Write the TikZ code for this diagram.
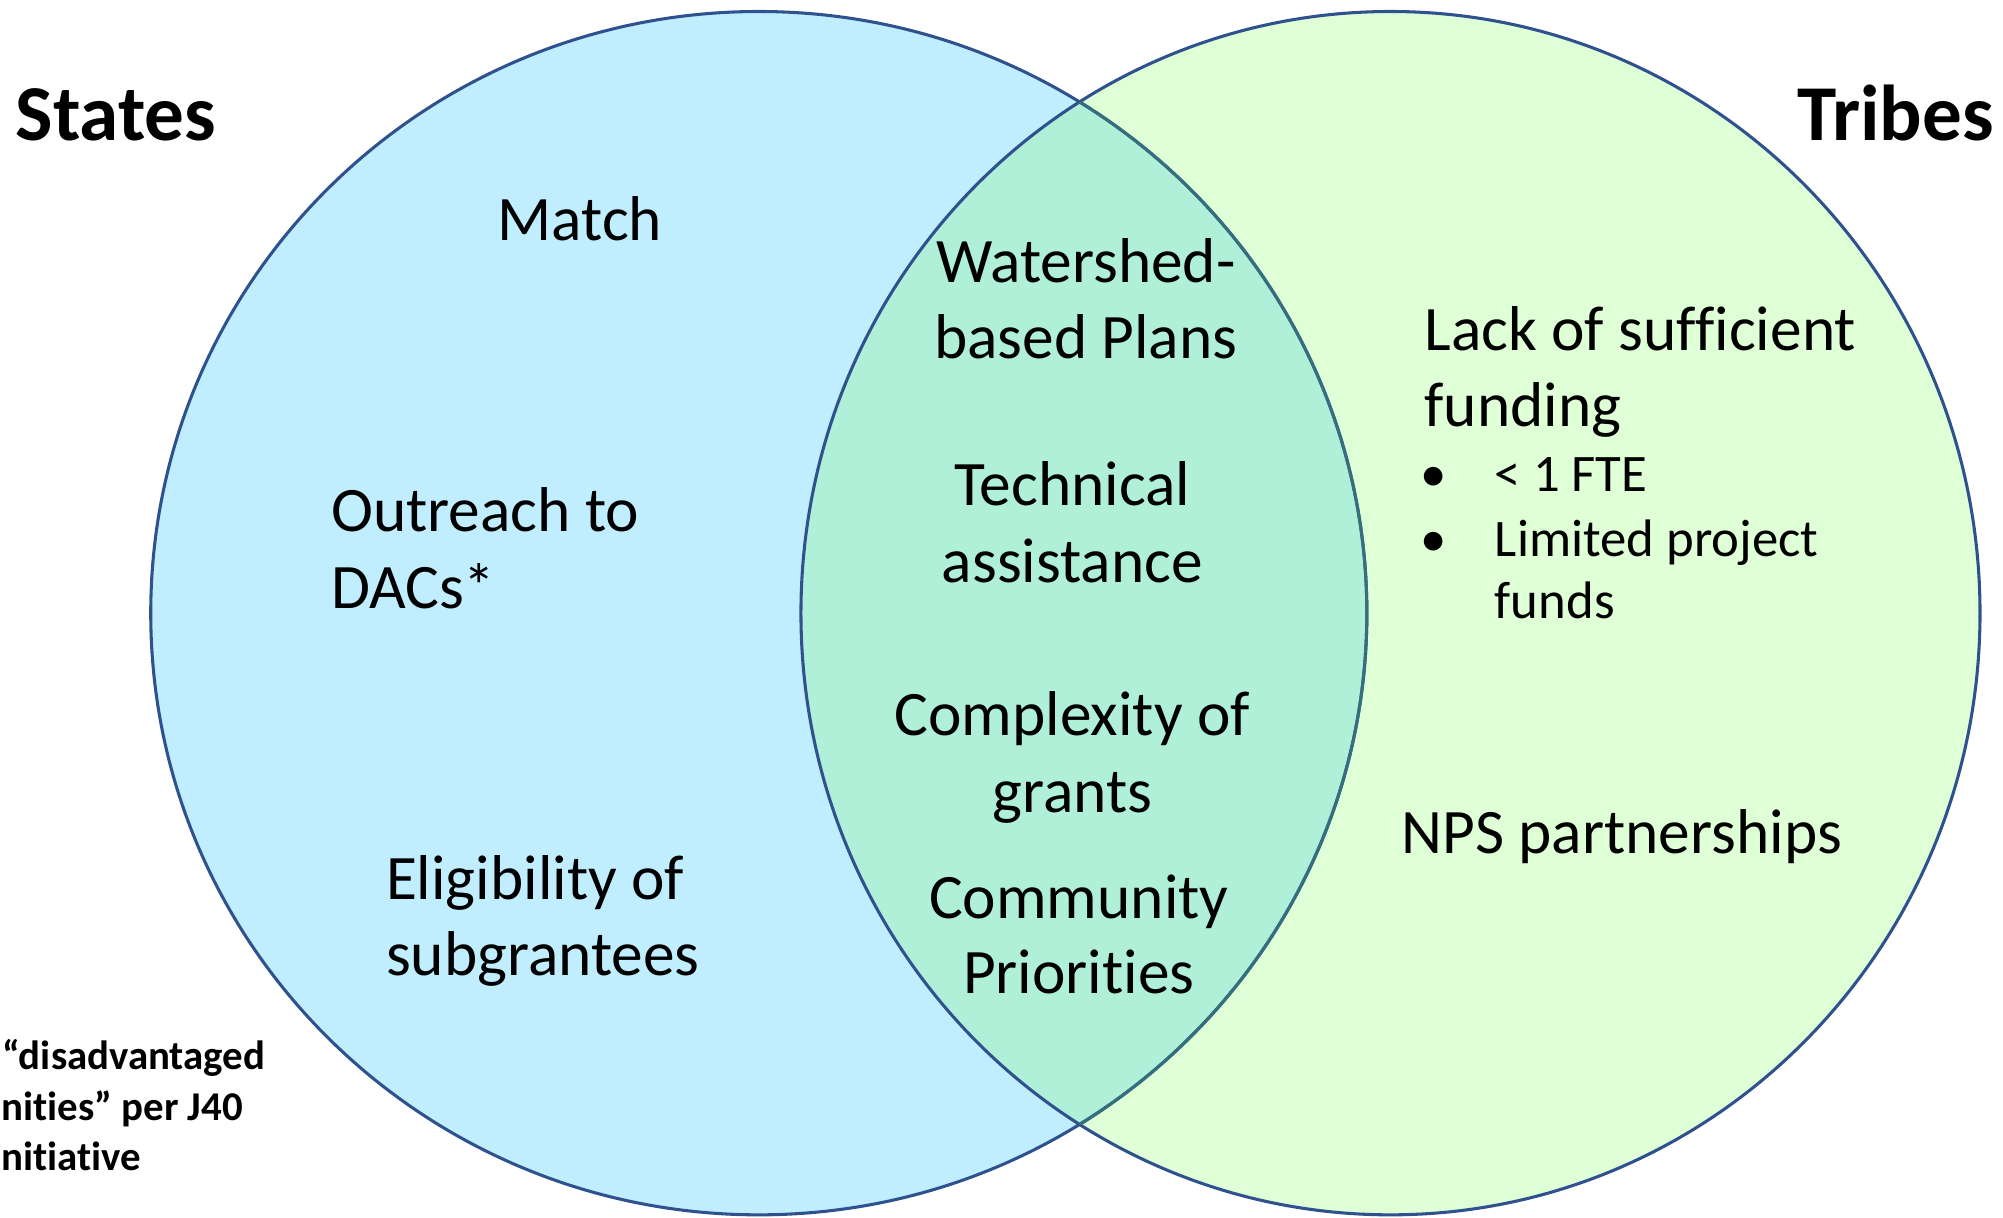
\documentclass[tikz,border=0pt]{standalone}
\usepackage{fontspec}
\setmainfont{Carlito}[Ligatures=NoCommon]
\definecolor{bluefill}{HTML}{C0EEFF}
\definecolor{greenfill}{HTML}{DFFFD6}
\definecolor{lensfill}{HTML}{B0F0D8}
\definecolor{edgeblue}{HTML}{2F528F}
\definecolor{edgeteal}{HTML}{356E7C}
\tikzset{
  edge/.style={draw=edgeblue, line width=2.4pt},
  body/.style={font=\fontsize{49.6}{59}\selectfont, inner sep=0pt},
  small/.style={font=\fontsize{41.3}{49}\selectfont, inner sep=0pt},
  title/.style={font=\fontsize{62}{73}\selectfont\bfseries, inner sep=0pt},
  note/.style={font=\fontsize{32}{39}\selectfont\bfseries, inner sep=0pt, anchor=base west},
  lft/.style={anchor=base west},
  ctr/.style={anchor=base}
}
\begin{document}
\begin{tikzpicture}[x=1pt,y=-1pt]
\useasboundingbox (0,0) rectangle (1568,953);
\clip (0,0) rectangle (1568,953);
\coordinate (L) at (594,480);
\coordinate (R) at (1088.5,480);
% fills
\fill[bluefill] (L) ellipse [x radius=476, y radius=471];
\fill[greenfill] (R) ellipse [x radius=461.5, y radius=471];
\begin{scope}
  \clip (L) ellipse [x radius=476, y radius=471];
  \fill[lensfill] (R) ellipse [x radius=461.5, y radius=471];
\end{scope}
% outlines
\draw[edge] (L) ellipse [x radius=476, y radius=471];
\draw[edge] (R) ellipse [x radius=461.5, y radius=471];
\begin{scope}
  \clip (R) ellipse [x radius=461.5, y radius=471];
  \draw[edge, draw=edgeteal] (L) ellipse [x radius=476, y radius=471];
\end{scope}

% titles
\node[title, anchor=base west] (states) at (12,110) {States};
\node[title, anchor=base east] (tribes) at (1561,110) {Tribes};

% left circle
\node[body, ctr] (match) at (454,188) {Match};
\node[body, lft] (out1) at (259,416) {Outreach to};
\node[body, lft] (out2) at (259,476) {DACs*};
\node[body, lft] (elig1) at (302,704) {Eligibility of};
\node[body, lft] (elig2) at (302,764) {subgrantees};

% lens
\node[body, ctr] (ws1) at (850,221) {Watershed-};
\node[body, ctr] (ws2) at (850,281) {based Plans};
\node[body, ctr] (ta1) at (839.5,396) {Technical};
\node[body, ctr] (ta2) at (839.5,456) {assistance};
\node[body, ctr] (cg1) at (839.5,576) {Complexity of};
\node[body, ctr] (cg2) at (839.5,636) {grants};
\node[body, ctr] (cp1) at (844.5,719) {Community};
\node[body, ctr] (cp2) at (844.5,778) {Priorities};

% right circle
\node[body, lft] (lack1) at (1115,274) {Lack of sufficient};
\node[body, lft] (lack2) at (1115,334) {funding};
\node[small, ctr] (b1) at (1122,385) {•};
\node[small, lft] (fte) at (1170,385) {< 1 FTE};
\node[small, ctr] (b2) at (1122,436) {•};
\node[small, lft] (lim1) at (1170,436) {Limited project};
\node[small, lft] (lim2) at (1170,484) {funds};
\node[body, ctr] (nps) at (1269.5,668) {NPS partnerships};

% footnote
\node[note] (fn1) at (2,837) {“disadvantaged};
\node[note] (fn2) at (1,877) {nities” per J40};
\node[note] (fn3) at (1,916) {nitiative};
\end{tikzpicture}
\end{document}
